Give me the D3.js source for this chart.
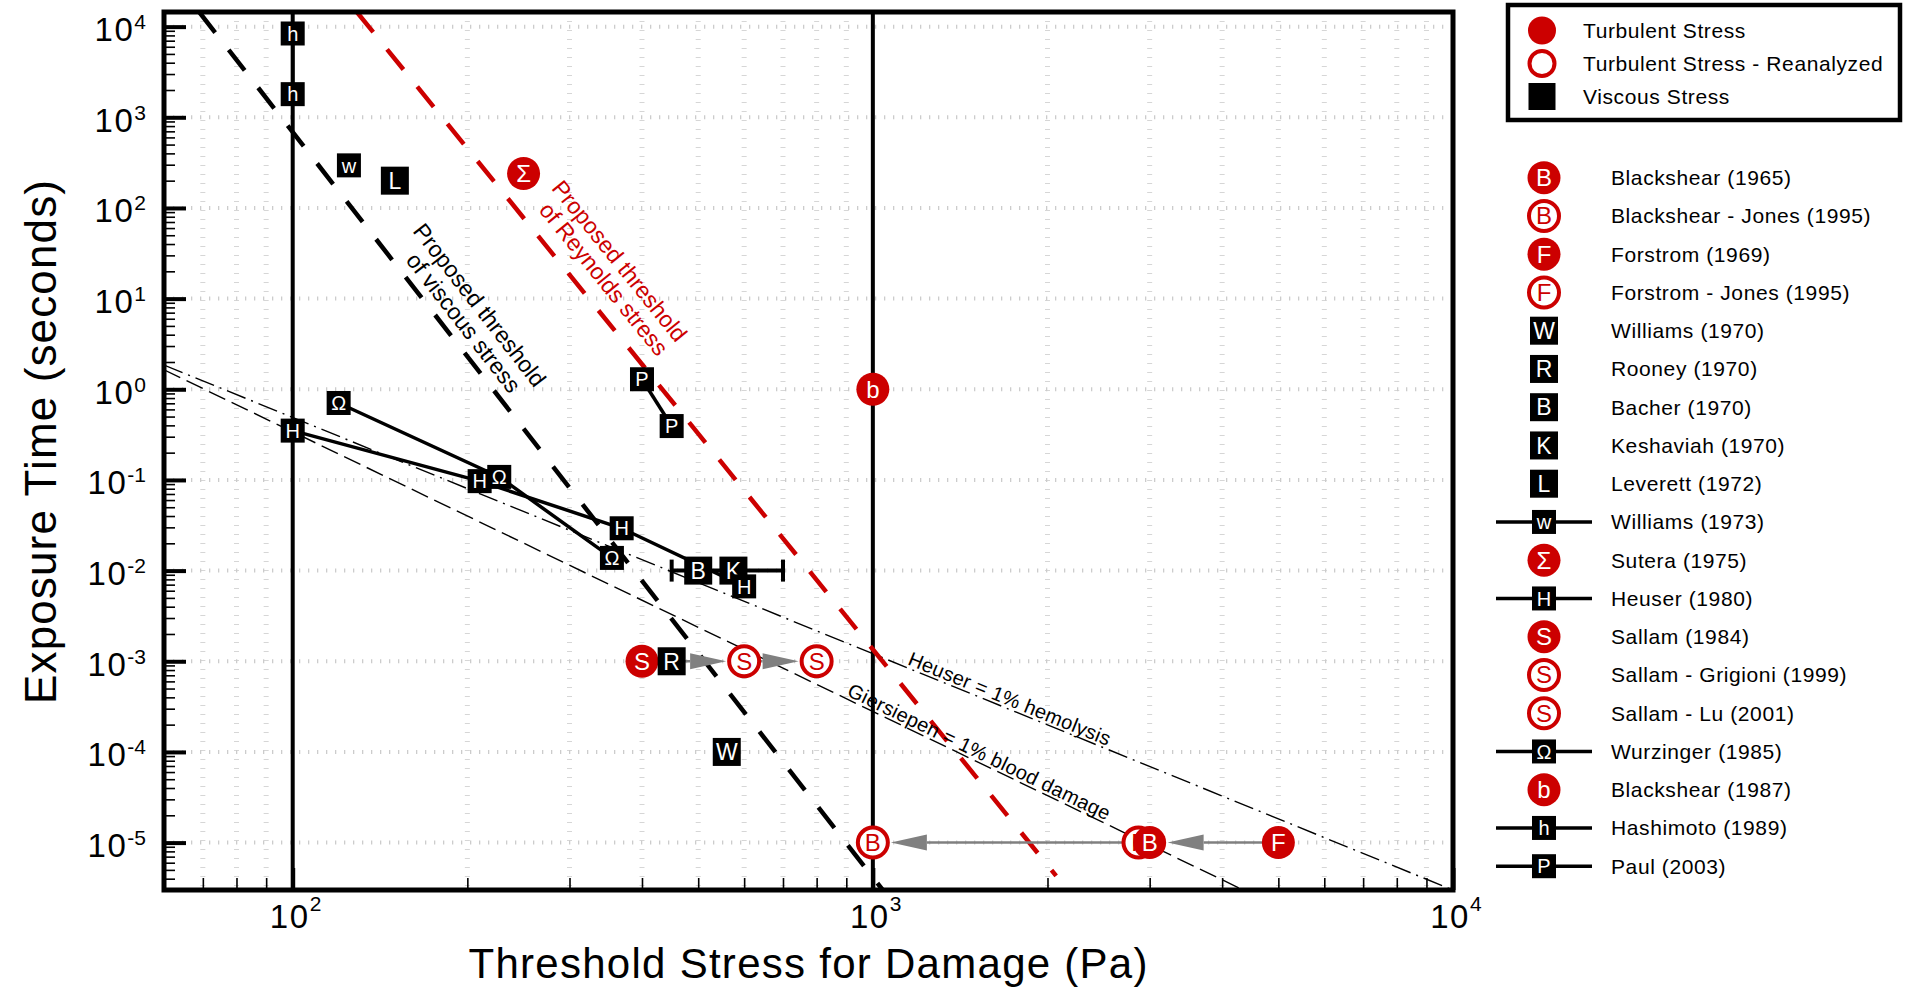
<!DOCTYPE html>
<html>
<head>
<meta charset="utf-8">
<script src="https://cdn.jsdelivr.net/npm/d3@7"></script>
<style>
  body { margin: 0; background: #fff; }
  svg text { font-family: "Liberation Sans", Arial, sans-serif; }
</style>
</head>
<body>
<svg id="chart" width="1906" height="990"></svg>
<script>
// ---- axis ranges and tick labels ----
const xDomain = [60, 10000];
const yDomain = [3e-6, 1.45e4];
const xMajor = [100, 1000, 10000];
const xMajorExp = ["2", "3", "4"];
const yMajor = [1e-5, 1e-4, 1e-3, 1e-2, 1e-1, 1, 10, 100, 1000, 10000];
const yMajorExp = ["-5", "-4", "-3", "-2", "-1", "0", "1", "2", "3", "4"];

// ---- reference lines (end points) ----
const verticalRefs = [100, 1000];
const viscousThreshold = [{x: 69, y: 1.45e4}, {x: 1040, y: 3e-6}];
const reynoldsThreshold = [{x: 129, y: 1.45e4}, {x: 2070, y: 4.3e-6}];
const heuserLine = [{x: 60, y: 1.85}, {x: 10000, y: 3e-6}];
const giersiepenLine = [{x: 60, y: 1.64}, {x: 4350, y: 3e-6}];

// ---- studies ----
const blackshear1965 = [{x: 3000, y: 1e-5}];
const blackshearJones = [{x: 1000, y: 1e-5}];
const forstrom1969 = [{x: 5000, y: 1e-5}];
const forstromJones = [{x: 2870, y: 1e-5}];
const williams1970 = [{x: 560, y: 1e-4}];
const rooney1970 = [{x: 450, y: 1e-3}];
const bacher1970 = [{x: 500, y: 0.01}];
const keshaviah1970 = [{x: 575, y: 0.01}];
const keshaviahRange = [450, 700];
const leverett1972 = [{x: 150, y: 200}];
const williams1973 = [{x: 125, y: 295}];
const sutera1975 = [{x: 250, y: 240}];
const heuser1980 = [{x: 100, y: 0.35}, {x: 210, y: 0.097}, {x: 369, y: 0.0293}, {x: 600, y: 0.0067}];
const sallam1984 = [{x: 400, y: 1e-3}];
const sallamGrigioni = [{x: 600, y: 1e-3}];
const sallamLu = [{x: 800, y: 1e-3}];
const wurzinger1985 = [{x: 120, y: 0.706}, {x: 227, y: 0.108}, {x: 355, y: 0.0138}];
const blackshear1987 = [{x: 1000, y: 1}];
const hashimoto1989 = [{x: 100, y: 8400}, {x: 100, y: 1800}];
const paul2003 = [{x: 400, y: 1.29}, {x: 450, y: 0.393}];

// reanalysis arrows: from -> to at a given exposure time
const reanalysisArrows = [
  {from: 400, to: 600, y: 1e-3},
  {from: 600, to: 800, y: 1e-3},
  {from: 5000, to: 3000, y: 1e-5},
  {from: 3000, to: 1000, y: 1e-5}
];

const studies = [
  {name: "Blackshear (1965)", letter: "B", kind: "filled", data: blackshear1965},
  {name: "Blackshear - Jones (1995)", letter: "B", kind: "open", data: blackshearJones},
  {name: "Forstrom (1969)", letter: "F", kind: "filled", data: forstrom1969},
  {name: "Forstrom - Jones (1995)", letter: "F", kind: "open", data: forstromJones},
  {name: "Williams (1970)", letter: "W", kind: "square", data: williams1970},
  {name: "Rooney (1970)", letter: "R", kind: "square", data: rooney1970},
  {name: "Bacher (1970)", letter: "B", kind: "square", data: bacher1970},
  {name: "Keshaviah (1970)", letter: "K", kind: "square", data: keshaviah1970},
  {name: "Leverett (1972)", letter: "L", kind: "square", data: leverett1972},
  {name: "Williams (1973)", letter: "w", kind: "lineSquare", data: williams1973},
  {name: "Sutera (1975)", letter: "\u03A3", kind: "filled", data: sutera1975},
  {name: "Heuser (1980)", letter: "H", kind: "lineSquare", data: heuser1980},
  {name: "Sallam (1984)", letter: "S", kind: "filled", data: sallam1984},
  {name: "Sallam - Grigioni (1999)", letter: "S", kind: "open", data: sallamGrigioni},
  {name: "Sallam - Lu (2001)", letter: "S", kind: "open", data: sallamLu},
  {name: "Wurzinger (1985)", letter: "\u03A9", kind: "lineSquare", data: wurzinger1985},
  {name: "Blackshear (1987)", letter: "b", kind: "filled", data: blackshear1987},
  {name: "Hashimoto (1989)", letter: "h", kind: "lineSquare", data: hashimoto1989},
  {name: "Paul (2003)", letter: "P", kind: "lineSquare", data: paul2003}
];

// drawing order on the plot (later ones sit on top)
const plotOrder = [
  "Forstrom - Jones (1995)", "Blackshear - Jones (1995)", "Blackshear (1965)", "Forstrom (1969)",
  "Sutera (1975)", "Sallam (1984)", "Sallam - Grigioni (1999)", "Sallam - Lu (2001)", "Blackshear (1987)",
  "Williams (1970)", "Rooney (1970)", "Bacher (1970)", "Keshaviah (1970)", "Leverett (1972)",
  "Williams (1973)", "Hashimoto (1989)", "Paul (2003)", "Heuser (1980)", "Wurzinger (1985)"
];

const categoryLegend = [
  {label: "Turbulent Stress", kind: "filled"},
  {label: "Turbulent Stress - Reanalyzed", kind: "open"},
  {label: "Viscous Stress", kind: "square"}
];

// ---- layout ----
const RED = "#cc0000";
const plotLeft = 164, plotRight = 1453, plotTop = 12, plotBottom = 890;

const svg = d3.select("#chart");
const x = d3.scaleLog().domain(xDomain).range([plotLeft, plotRight]);
const y = d3.scaleLog().domain(yDomain).range([plotBottom, plotTop]);

// minor tick positions
const xMinor = [];
for (let e = 1; e <= 3; e++) for (let k = 2; k <= 9; k++) {
  const v = k * Math.pow(10, e);
  if (v > xDomain[0] && v < xDomain[1]) xMinor.push(v);
}
const yMinor = [];
for (let e = -6; e <= 4; e++) for (let k = 2; k <= 9; k++) {
  const v = k * Math.pow(10, e);
  if (v > yDomain[0] && v < yDomain[1]) yMinor.push(v);
}

svg.append("defs").append("clipPath").attr("id", "plot-clip")
  .append("rect")
  .attr("x", plotLeft).attr("y", plotTop)
  .attr("width", plotRight - plotLeft).attr("height", plotBottom - plotTop);

const plot = svg.append("g").attr("clip-path", "url(#plot-clip)");

// grid
plot.selectAll(".vgrid").data(xMinor).join("line").attr("class", "vgrid")
  .attr("x1", d => x(d)).attr("x2", d => x(d))
  .attr("y1", plotTop).attr("y2", plotBottom)
  .attr("stroke", "#d6d6d6").attr("stroke-width", 5).attr("stroke-dasharray", "1,8");
plot.selectAll(".hgrid").data(yMajor).join("line").attr("class", "hgrid")
  .attr("x1", plotLeft).attr("x2", plotRight)
  .attr("y1", d => y(d)).attr("y2", d => y(d))
  .attr("stroke", "#cccccc").attr("stroke-width", 4).attr("stroke-dasharray", "1.3,7.7");

// full-height vertical reference lines
plot.selectAll(".vref").data(verticalRefs).join("line").attr("class", "vref")
  .attr("x1", d => x(d)).attr("x2", d => x(d))
  .attr("y1", plotTop).attr("y2", plotBottom)
  .attr("stroke", "#000").attr("stroke-width", 4);

const line = d3.line().x(d => x(d.x)).y(d => y(d.y));

// correlation lines (thin)
plot.append("path").datum(heuserLine).attr("d", line)
  .attr("fill", "none").attr("stroke", "#000").attr("stroke-width", 1.4)
  .attr("stroke-dasharray", "20,6,2,6");
plot.append("path").datum(giersiepenLine).attr("d", line)
  .attr("fill", "none").attr("stroke", "#000").attr("stroke-width", 1.4)
  .attr("stroke-dasharray", "18,7");

// proposed thresholds (thick dashed)
plot.append("path").datum(viscousThreshold).attr("d", line)
  .attr("fill", "none").attr("stroke", "#000").attr("stroke-width", 4.5)
  .attr("stroke-dasharray", "26,22");
plot.append("path").datum(reynoldsThreshold).attr("d", line)
  .attr("fill", "none").attr("stroke", RED).attr("stroke-width", 4.5)
  .attr("stroke-dasharray", "26,22");

// helpers for annotations along a line
function pointOnLine(seg, xv) {
  const t = (Math.log10(xv) - Math.log10(seg[0].x)) / (Math.log10(seg[1].x) - Math.log10(seg[0].x));
  const ly = Math.log10(seg[0].y) + t * (Math.log10(seg[1].y) - Math.log10(seg[0].y));
  return [x(xv), y(Math.pow(10, ly))];
}
function lineAngle(seg) {
  return Math.atan2(y(seg[1].y) - y(seg[0].y), x(seg[1].x) - x(seg[0].x)) * 180 / Math.PI;
}

// line labels
function alongLabel(seg, xv, text, dy) {
  const [px, py] = pointOnLine(seg, xv);
  svg.append("text")
    .attr("transform", `translate(${px},${py}) rotate(${lineAngle(seg)})`)
    .attr("y", dy).attr("text-anchor", "middle")
    .style("font-size", "20px").style("letter-spacing", "0.3px")
    .text(text);
}
alongLabel(heuserLine, 1696, "Heuser = 1% hemolysis", -3);
alongLabel(giersiepenLine, 1500, "Giersiepen = 1% blood damage", -3);

function thresholdLabel(at, seg, lines, color) {
  const g = svg.append("g")
    .attr("transform", `translate(${x(at.x)},${y(at.y)}) rotate(${lineAngle(seg)})`);
  lines.forEach((t, i) => {
    g.append("text").attr("x", i * 4).attr("y", 8 + i * 23.5)
      .attr("text-anchor", "middle").attr("fill", color)
      .style("font-size", "23px").text(t);
  });
}
thresholdLabel({x: 210, y: 8.5}, viscousThreshold, ["Proposed threshold", "of viscous stress"], "#000");
thresholdLabel({x: 366, y: 26}, reynoldsThreshold, ["Proposed threshold", "of Reynolds stress"], RED);

// reanalysis arrows
const arrowG = svg.append("g");
reanalysisArrows.forEach(a => {
  const dir = Math.sign(x(a.to) - x(a.from));
  const yy = y(a.y);
  const start = x(a.from) + dir * 16;
  const tip = x(a.to) - dir * 18;
  const headLen = 36, headHalf = 8;
  arrowG.append("line")
    .attr("x1", start).attr("x2", tip - dir * headLen)
    .attr("y1", yy).attr("y2", yy)
    .attr("stroke", "#808080").attr("stroke-width", 2.5);
  arrowG.append("path")
    .attr("d", `M${tip},${yy}L${tip - dir * headLen},${yy - headHalf}L${tip - dir * headLen},${yy + headHalf}Z`)
    .attr("fill", "#808080");
});

// connecting lines of multi-point studies
studies.filter(s => s.kind === "lineSquare" && s.data.length > 1).forEach(s => {
  svg.append("path").datum(s.data).attr("d", line)
    .attr("fill", "none").attr("stroke", "#000").attr("stroke-width", 3.5);
});

// Keshaviah range bar
const ebY = y(keshaviah1970[0].y);
svg.append("line")
  .attr("x1", x(keshaviahRange[0])).attr("x2", x(keshaviahRange[1]))
  .attr("y1", ebY).attr("y2", ebY)
  .attr("stroke", "#000").attr("stroke-width", 4);
keshaviahRange.forEach(v => {
  svg.append("line")
    .attr("x1", x(v)).attr("x2", x(v)).attr("y1", ebY - 11).attr("y2", ebY + 11)
    .attr("stroke", "#000").attr("stroke-width", 4);
});

// marker drawing
function drawMarker(g, kind, letter, cx, cy, small) {
  const m = g.append("g").attr("transform", `translate(${cx},${cy})`);
  if (kind === "filled" || kind === "open") {
    const r = small ? 14 : 16.5;
    m.append("circle")
      .attr("r", kind === "filled" ? r : r - 1.5)
      .attr("fill", kind === "filled" ? RED : "#fff")
      .attr("stroke", RED).attr("stroke-width", kind === "filled" ? 0 : 4);
    if (letter) {
      m.append("text").attr("text-anchor", "middle").attr("y", 8.5)
        .attr("fill", kind === "filled" ? "#fff" : RED)
        .style("font-size", "24px").text(letter);
    }
  } else {
    const s = kind === "square" ? (small ? 27 : 28) : 24;
    const fs = kind === "square" ? 23 : 20;
    m.append("rect").attr("x", -s / 2).attr("y", -s / 2)
      .attr("width", s).attr("height", s).attr("fill", "#000");
    if (letter) {
      m.append("text").attr("text-anchor", "middle").attr("y", fs * 0.36)
        .attr("fill", "#fff").style("font-size", fs + "px").text(letter);
    }
  }
}

const markerG = svg.append("g");
plotOrder.forEach(name => {
  const s = studies.find(d => d.name === name);
  s.data.forEach(p => drawMarker(markerG, s.kind, s.letter, x(p.x), y(p.y)));
});

// axes ticks (inward)
function styleAxis(g, width) {
  g.select(".domain").remove();
  g.selectAll("line").attr("stroke", "#000").attr("stroke-width", width);
}
svg.append("g").attr("transform", `translate(${plotLeft},0)`)
  .call(d3.axisLeft(y).tickValues(yMinor).tickSize(-11).tickFormat(""))
  .call(g => styleAxis(g, 1.6));
svg.append("g").attr("transform", `translate(${plotLeft},0)`)
  .call(d3.axisLeft(y).tickValues(yMajor).tickSize(-22).tickFormat(""))
  .call(g => styleAxis(g, 4));
svg.append("g").attr("transform", `translate(0,${plotBottom})`)
  .call(d3.axisBottom(x).tickValues(xMinor).tickSize(-12).tickFormat(""))
  .call(g => styleAxis(g, 1.6));
svg.append("g").attr("transform", `translate(0,${plotBottom})`)
  .call(d3.axisBottom(x).tickValues(xMajor).tickSize(-22).tickFormat(""))
  .call(g => styleAxis(g, 4));

// frame
svg.append("rect")
  .attr("x", plotLeft).attr("y", plotTop)
  .attr("width", plotRight - plotLeft).attr("height", plotBottom - plotTop)
  .attr("fill", "none").attr("stroke", "#000").attr("stroke-width", 5);

// tick labels
yMajor.forEach((v, i) => {
  const t = svg.append("text")
    .attr("x", 146).attr("y", y(v) + 14.5)
    .attr("text-anchor", "end").style("font-size", "33px");
  t.append("tspan").style("letter-spacing", "1.5px").text("10");
  t.append("tspan").attr("dy", -12).style("font-size", "21px").text(yMajorExp[i]);
});
xMajor.forEach((v, i) => {
  svg.append("text")
    .attr("x", x(v) - 3).attr("y", 928)
    .attr("text-anchor", "middle").style("font-size", "33px")
    .style("letter-spacing", "1.5px").text("10");
  svg.append("text")
    .attr("x", x(v) + 17).attr("y", 911)
    .style("font-size", "21px").text(xMajorExp[i]);
});

// axis titles
svg.append("text")
  .attr("x", 808).attr("y", 978).attr("text-anchor", "middle")
  .attr("textLength", 679).attr("lengthAdjust", "spacing")
  .style("font-size", "42px")
  .text("Threshold Stress for Damage (Pa)");
svg.append("text")
  .attr("transform", "translate(56,442) rotate(-90)")
  .attr("text-anchor", "middle")
  .attr("textLength", 524).attr("lengthAdjust", "spacing")
  .style("font-size", "44px")
  .text("Exposure Time (seconds)");

// category legend box
const legBox = svg.append("g");
legBox.append("rect")
  .attr("x", 1508).attr("y", 5).attr("width", 392).attr("height", 115)
  .attr("fill", "#fff").attr("stroke", "#000").attr("stroke-width", 4.5);
categoryLegend.forEach((d, i) => {
  const cy = 30.5 + i * 33;
  drawMarker(legBox, d.kind, null, 1542, cy, true);
  legBox.append("text")
    .attr("x", 1583).attr("y", cy + 7.5)
    .style("font-size", "21px").style("letter-spacing", "0.6px")
    .text(d.label);
});

// study legend list
const legList = svg.append("g");
studies.forEach((s, i) => {
  const cy = 177.7 + i * 38.25;
  if (s.kind === "lineSquare") {
    legList.append("line")
      .attr("x1", 1496).attr("x2", 1592).attr("y1", cy).attr("y2", cy)
      .attr("stroke", "#000").attr("stroke-width", 3.5);
  }
  drawMarker(legList, s.kind, s.letter, 1544, cy);
  legList.append("text")
    .attr("x", 1611).attr("y", cy + 7.5)
    .style("font-size", "21px").style("letter-spacing", "0.6px")
    .text(s.name);
});
</script>
</body>
</html>
